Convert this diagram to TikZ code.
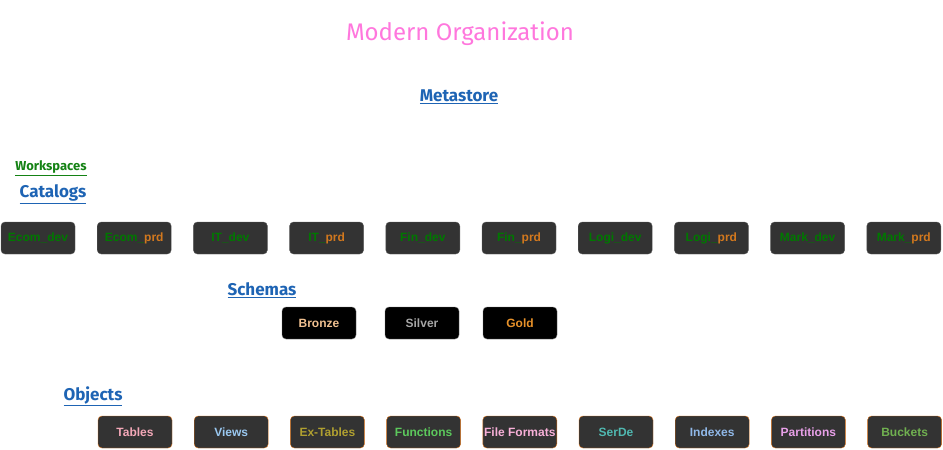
\documentclass[tikz,border=0pt]{standalone}
\usepackage{fontspec}
\setmainfont{Liberation Sans}
\newfontfamily\headfont{Fira Sans}
\usetikzlibrary{positioning}
\definecolor{titlepink}{RGB}{255,119,221}
\definecolor{headblue}{RGB}{30,100,180}
\definecolor{headgreen}{RGB}{20,130,20}
\definecolor{devgreen}{RGB}{0,120,0}
\definecolor{prdorange}{RGB}{210,120,30}
\definecolor{boxgray}{RGB}{51,51,51}
\definecolor{edgeorange}{RGB}{215,110,20}
\newcommand{\prdlabel}[1]{\textcolor{devgreen}{#1}\textcolor{prdorange}{prd}}

\begin{document}
\begin{tikzpicture}[x=1pt, y=-1pt,
    heading/.style={font=\headfont\fontsize{17}{20}\selectfont\bfseries, text=headblue},
    catalog/.style={draw=boxgray!80!white, fill=boxgray, rounded corners=4pt, minimum width=74pt,
        minimum height=32pt, inner sep=0pt, font=\fontsize{12}{14}\selectfont\bfseries, text=devgreen},
    schema/.style={draw=black!55, fill=black, rounded corners=4pt, minimum width=74pt,
        minimum height=32pt, inner sep=0pt, font=\fontsize{12}{14}\selectfont\bfseries},
    object/.style={draw=edgeorange, fill=boxgray, rounded corners=4pt, minimum width=74pt,
        minimum height=32pt, inner sep=0pt, font=\fontsize{12}{14}\selectfont\bfseries},
    node distance=21.8pt
]
    \useasboundingbox (0,0) rectangle (943,450);

    % Title and metastore
    \node[font=\headfont\fontsize{24}{28}\selectfont, text=titlepink] (title) at (460,34) {Modern Organization};
    \node[heading] (metastore) at (459,97) {\underline{Metastore}};

    % Workspaces and catalogs
    \node[heading, font=\headfont\fontsize{13}{15}\selectfont\bfseries, text=headgreen] (workspaces) at (51,168) {\underline{Workspaces}};
    \node[heading] (catalogs) at (53,194) {\underline{Catalogs}};

    \node[catalog] (ecom_dev) at (38,238) {Ecom\_dev};
    \node[catalog, right=of ecom_dev] (ecom_prd) {\prdlabel{Ecom\_}};
    \node[catalog, right=of ecom_prd] (it_dev) {IT\_dev};
    \node[catalog, right=of it_dev] (it_prd) {\prdlabel{IT\_}};
    \node[catalog, right=of it_prd] (fin_dev) {Fin\_dev};
    \node[catalog, right=of fin_dev] (fin_prd) {\prdlabel{Fin\_}};
    \node[catalog, right=of fin_prd] (logi_dev) {Logi\_dev};
    \node[catalog, right=of logi_dev] (logi_prd) {\prdlabel{Logi\_}};
    \node[catalog, right=of logi_prd] (mark_dev) {Mark\_dev};
    \node[catalog, right=of mark_dev] (mark_prd) {\prdlabel{Mark\_}};

    % Schemas
    \node[heading] (schemas) at (262,290) {\underline{Schemas}};
    \node[schema, text={rgb,255:red,240;green,192;blue,144}] (bronze) at (319,323) {Bronze};
    \node[schema, text=black!35, right=28.6pt of bronze] (silver) {Silver};
    \node[schema, text={rgb,255:red,232;green,146;blue,42}, right=23.6pt of silver] (gold) {Gold};

    % Objects
    \node[heading] (objects) at (93,396) {\underline{Objects}};
    \node[object, text={rgb,255:red,244;green,168;blue,184}] (tables) at (135,432) {Tables};
    \node[object, text={rgb,255:red,154;green,200;blue,240}, right=of tables] (views) {Views};
    \node[object, text={rgb,255:red,176;green,160;blue,48}, right=of views] (ex_tables) {Ex-Tables};
    \node[object, text={rgb,255:red,92;green,200;blue,92}, right=of ex_tables] (functions) {Functions};
    \node[object, text={rgb,255:red,248;green,176;blue,216}, right=of functions] (file_formats) {File Formats};
    \node[object, text={rgb,255:red,80;green,184;blue,176}, right=of file_formats] (serde) {SerDe};
    \node[object, text={rgb,255:red,144;green,184;blue,232}, right=of serde] (indexes) {Indexes};
    \node[object, text={rgb,255:red,232;green,160;blue,232}, right=of indexes] (partitions) {Partitions};
    \node[object, text={rgb,255:red,112;green,176;blue,80}, right=of partitions] (buckets) {Buckets};

\end{tikzpicture}
\end{document}
